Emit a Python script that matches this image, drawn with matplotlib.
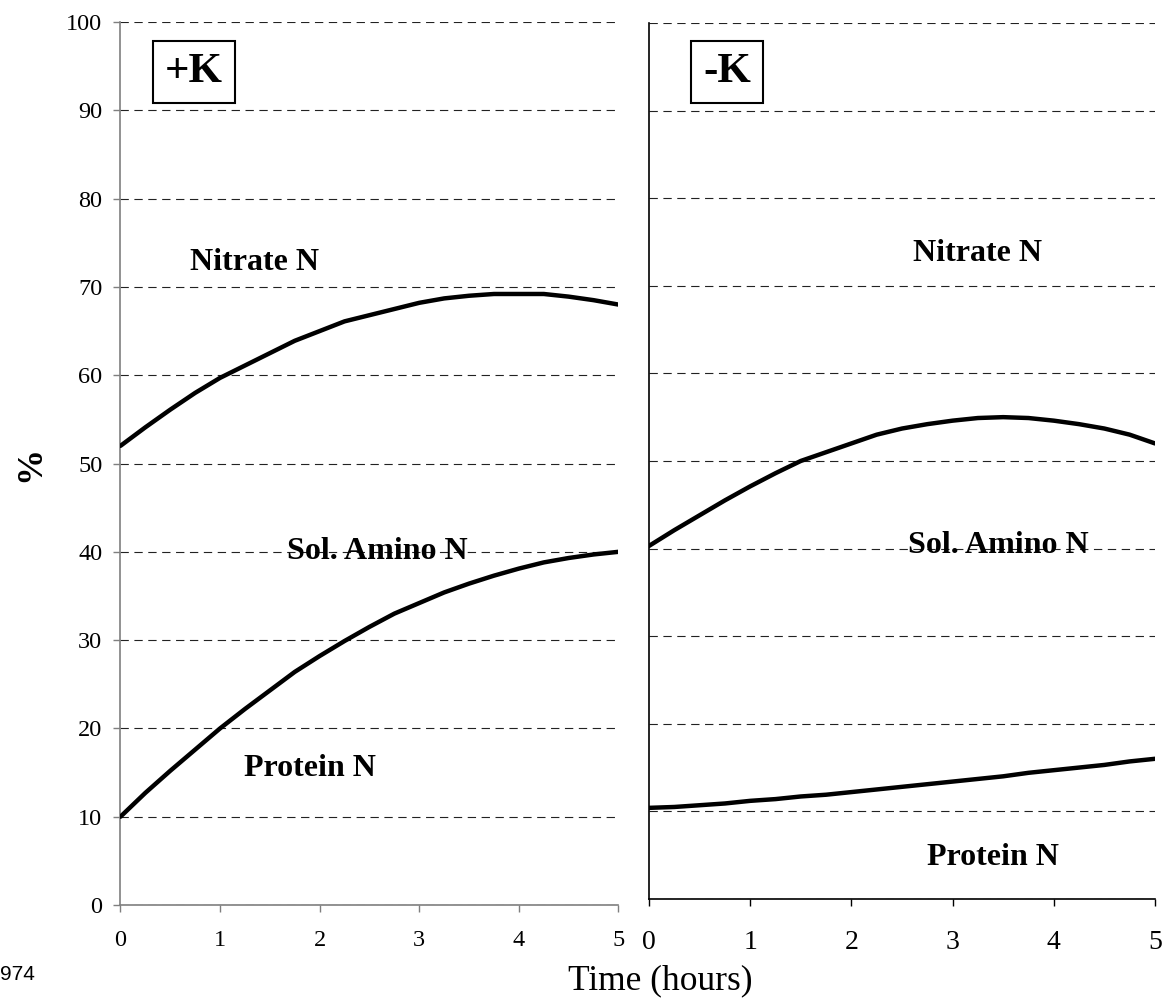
import numpy as np
import matplotlib
matplotlib.use("Agg")
import matplotlib.pyplot as plt

# Time axis (hours)
hours = [0, 0.25, 0.5, 0.75, 1.0, 1.25, 1.5, 1.75, 2.0, 2.25, 2.5,
         2.75, 3.0, 3.25, 3.5, 3.75, 4.0, 4.25, 4.5, 4.75, 5.0]

# +K panel: upper curve (protein + soluble amino N) and lower curve (protein N), %
plus_k_upper = [52.0, 54.1, 56.1, 58.0, 59.7, 61.1, 62.5, 63.9, 65.0, 66.1, 66.8,
                67.5, 68.2, 68.7, 69.0, 69.2, 69.2, 69.2, 68.9, 68.5, 68.0]
plus_k_lower = [10.0, 12.7, 15.2, 17.6, 20.0, 22.2, 24.3, 26.4, 28.2, 29.9, 31.5,
                33.0, 34.2, 35.4, 36.4, 37.3, 38.1, 38.8, 39.3, 39.7, 40.0]

# -K panel
minus_k_upper = [40.3, 42.1, 43.8, 45.5, 47.1, 48.6, 50.0, 51.0, 52.0, 53.0, 53.7,
                 54.2, 54.6, 54.9, 55.0, 54.9, 54.6, 54.2, 53.7, 53.0, 52.0]
minus_k_lower = [10.4, 10.5, 10.7, 10.9, 11.2, 11.4, 11.7, 11.9, 12.2, 12.5, 12.8,
                 13.1, 13.4, 13.7, 14.0, 14.4, 14.7, 15.0, 15.3, 15.7, 16.0]

x_ticks = [0, 1, 2, 3, 4, 5]
y_ticks = [0, 10, 20, 30, 40, 50, 60, 70, 80, 90, 100]

plt.rcParams["font.family"] = ["Liberation Serif", "DejaVu Serif"]
plt.rcParams["lines.scale_dashes"] = False

fig = plt.figure(figsize=(11.65, 10.06), dpi=100)
ax_l = fig.add_axes([0.1034, 0.1004, 0.4275, 0.8777])
ax_r = fig.add_axes([0.5571, 0.1064, 0.4343, 0.8708])

label_kw = dict(fontsize=23, fontweight="bold", ha="center", va="center", zorder=5)


def style_panel(ax, spine_color, tick_size, pad, show_y):
    ax.set_xlim(0, 5)
    ax.set_ylim(0, 100)
    ax.set_xticks(x_ticks)
    ax.set_yticks(y_ticks)
    for side in ("top", "right"):
        ax.spines[side].set_visible(False)
    for side in ("left", "bottom"):
        ax.spines[side].set_color(spine_color)
        ax.spines[side].set_linewidth(1.2)
    ax.yaxis.grid(True, linestyle=(0, (6, 4)), color="#222222", linewidth=0.8)
    ax.set_axisbelow(True)
    ax.tick_params(axis="x", direction="out", length=5, width=1,
                   color=spine_color, labelsize=tick_size, pad=pad)
    if show_y:
        ax.tick_params(axis="y", direction="out", length=5, width=1,
                       color=spine_color, labelsize=tick_size, pad=8)
    else:
        ax.tick_params(axis="y", length=0, labelleft=False)


style_panel(ax_l, "#7f7f7f", 17.5, 13, True)
style_panel(ax_r, "black", 20, 17, False)

ax_l.plot(hours, plus_k_upper, color="black", linewidth=3.2, solid_capstyle="round", zorder=3)
ax_l.plot(hours, plus_k_lower, color="black", linewidth=3.2, solid_capstyle="round", zorder=3)
ax_r.plot(hours, minus_k_upper, color="black", linewidth=3.2, solid_capstyle="round", zorder=3)
ax_r.plot(hours, minus_k_lower, color="black", linewidth=3.2, solid_capstyle="round", zorder=3)

box = dict(boxstyle="square,pad=0.28", facecolor="white", edgecolor="black", linewidth=1.5)
ax_l.text(0.74, 94.3, "+K", fontsize=31, fontweight="bold", ha="center", va="center", bbox=box)
ax_r.text(0.77, 94.4, "-K", fontsize=31, fontweight="bold", ha="center", va="center", bbox=box)

ax_l.text(1.35, 72.8, "Nitrate N", **label_kw)
ax_l.text(2.58, 40.0, "Sol. Amino N", **label_kw)
ax_l.text(1.9, 15.5, "Protein N", **label_kw)
ax_r.text(3.25, 73.7, "Nitrate N", **label_kw)
ax_r.text(3.45, 40.4, "Sol. Amino N", **label_kw)
ax_r.text(3.40, 4.7, "Protein N", **label_kw)

ax_l.set_ylabel("%", fontsize=26, fontweight="bold", labelpad=14)

fig.text(0.567, 0.025, "Time (hours)", fontsize=25.5, ha="center", va="center")
fig.text(0.0, 0.031, "974", fontsize=15, ha="left", va="center", family="Liberation Sans")

fig.savefig("out.png", dpi=100)
